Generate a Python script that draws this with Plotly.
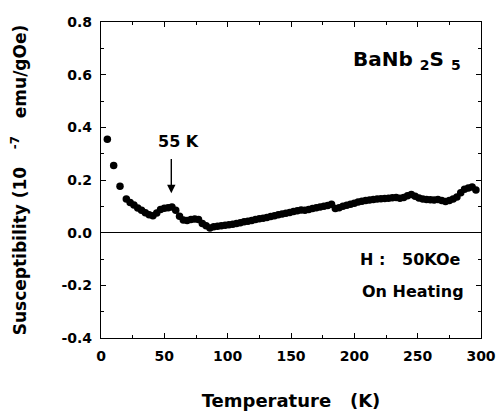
import plotly.graph_objects as go

temperature = [5, 10, 15, 20, 23, 26, 29, 32, 35, 38, 41, 44, 47, 50, 53, 56, 59, 62, 65, 68, 71, 74, 77,
               80, 83, 86, 89, 92, 95, 98, 101, 104, 107, 110, 113, 116, 119, 122, 125, 128, 131, 134,
               137, 140, 143, 146, 149, 152, 155, 158, 161, 164, 167, 170, 173, 176, 179, 182, 185,
               188, 191, 194, 197, 200, 203, 206, 209, 212, 215, 218, 221, 224, 227, 230, 233, 236,
               239, 242, 245, 248, 251, 254, 257, 260, 263, 266, 269, 272, 275, 278, 281, 284, 287,
               290, 293, 296]
susceptibility = [0.355, 0.255, 0.176, 0.128, 0.115, 0.105, 0.094, 0.085, 0.076, 0.068, 0.064, 0.075,
                  0.088, 0.093, 0.095, 0.097, 0.085, 0.062, 0.048, 0.046, 0.050, 0.052, 0.050, 0.035,
                  0.026, 0.018, 0.022, 0.024, 0.026, 0.028, 0.030, 0.032, 0.035, 0.038, 0.041, 0.043,
                  0.046, 0.050, 0.053, 0.055, 0.058, 0.061, 0.064, 0.068, 0.071, 0.074, 0.077, 0.080,
                  0.083, 0.086, 0.085, 0.088, 0.092, 0.095, 0.097, 0.100, 0.103, 0.108, 0.092, 0.095,
                  0.100, 0.104, 0.108, 0.112, 0.116, 0.119, 0.122, 0.124, 0.126, 0.128, 0.129, 0.130,
                  0.131, 0.133, 0.134, 0.131, 0.134, 0.140, 0.145, 0.138, 0.132, 0.128, 0.126, 0.125,
                  0.124, 0.126, 0.122, 0.118, 0.122, 0.128, 0.135, 0.152, 0.165, 0.170, 0.173, 0.162]

x_ticks = [0, 50, 100, 150, 200, 250, 300]
x_tick_labels = ["0", "50", "100", "150", "200", "250", "300"]
y_ticks = [-0.4, -0.2, 0.0, 0.2, 0.4, 0.6, 0.8]
y_tick_labels = ["-0.4", "-0.2", "0.0", "0.2", "0.4", "0.6", "0.8"]

FONT = "DejaVu Sans"
SP = "&nbsp;"


def bold(s):
    return "<b>" + s + "</b>"


fig = go.Figure()
fig.add_trace(go.Scatter(x=temperature, y=susceptibility, mode="markers",
                         marker=dict(color="black", size=7.5), showlegend=False))

axis_common = dict(showline=True, linecolor="black", linewidth=1.3, mirror="allticks",
                   ticks="inside", ticklen=5, tickwidth=1, tickcolor="black", showgrid=False,
                   automargin=False, tickfont=dict(family=FONT, size=14, color="black"))

fig.update_xaxes(range=[0, 300], tickvals=x_ticks, ticktext=[bold(t) for t in x_tick_labels],
                 zeroline=False, ticklabelstandoff=5,
                 minor=dict(dtick=25, ticks="inside", ticklen=3, tickcolor="black"),
                 title=dict(text=bold("Temperature" + SP * 3 + "(K)"), standoff=31,
                            font=dict(family=FONT, size=18, color="black")),
                 **axis_common)
fig.update_yaxes(range=[-0.4, 0.8], tickvals=y_ticks, ticktext=[bold(t) for t in y_tick_labels],
                 zeroline=True, zerolinecolor="black", zerolinewidth=1.2, ticklabelstandoff=5,
                 minor=dict(dtick=0.1, tick0=0, ticks="inside", ticklen=3, tickcolor="black"),
                 title=dict(text=bold("Susceptibility" + SP + "(10" + SP * 3 + "<sup>-7</sup>"
                                      + SP * 3 + "emu/gOe)"), standoff=30,
                            font=dict(family=FONT, size=17, color="black")),
                 **axis_common)

ann_font = dict(family=FONT, size=16, color="black")
fig.add_annotation(x=55.5, y=0.150, ax=55.5, ay=0.285, xref="x", yref="y", axref="x", ayref="y",
                   showarrow=True, arrowhead=2, arrowsize=1.2, arrowwidth=1.4, arrowcolor="black", text="")
fig.add_annotation(x=61, y=0.348, xref="x", yref="y", text=bold("55 K"), showarrow=False, font=ann_font)
fig.add_annotation(x=0.953, y=0.880, xref="paper", yref="paper", xanchor="right", yanchor="middle",
                   text=bold("BaNb <sub>2</sub>S <sub>5</sub>"), showarrow=False,
                   font=dict(family=FONT, size=20, color="black"))
fig.add_annotation(x=0.953, y=0.247, xref="paper", yref="paper", xanchor="right", yanchor="middle",
                   text=bold("H :" + SP * 3 + "50KOe"), showarrow=False, font=ann_font)
fig.add_annotation(x=0.96, y=0.146, xref="paper", yref="paper", xanchor="right", yanchor="middle",
                   text=bold("On Heating"), showarrow=False, font=ann_font)

fig.update_layout(width=503, height=413, margin=dict(l=101, r=22, t=22, b=75, autoexpand=False),
                  plot_bgcolor="white", paper_bgcolor="white",
                  font=dict(family=FONT, color="black"))

fig.write_html("out.html")
